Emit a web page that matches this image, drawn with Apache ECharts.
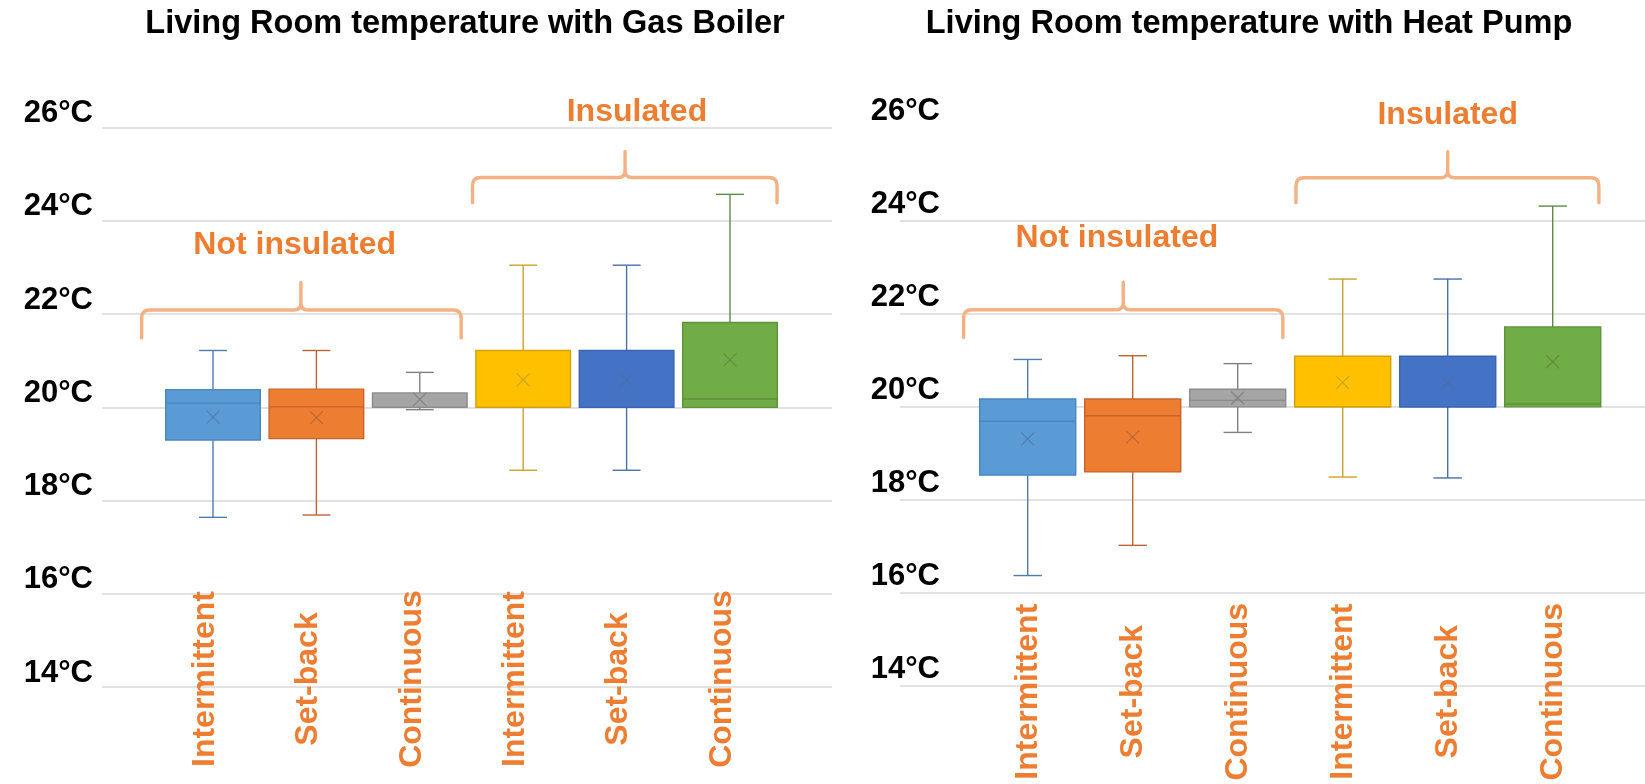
<!DOCTYPE html>
<html>
<head>
<meta charset="utf-8">
<title>Living Room temperature</title>
<script src="https://cdn.jsdelivr.net/npm/echarts@6/dist/echarts.min.js"></script>
<style>
  html, body { margin: 0; padding: 0; background: #ffffff; }
  #chart { width: 1645px; height: 784px; }
</style>
</head>
<body>
<div id="chart"></div>
<script>
// ---- data -------------------------------------------------------------
const categories = ['Intermittent', 'Set-back', 'Continuous', 'Intermittent', 'Set-back', 'Continuous'];
const groupNames = ['Not insulated', 'Insulated'];
// first and last category index of each group
const groupSpans = [[0, 2], [3, 5]];
const yTicks = [14, 16, 18, 20, 22, 24, 26];

// [min, Q1, median, Q3, max] in °C
const gasBoilerBox = [
  [17.64, 19.30, 20.09, 20.38, 21.22],
  [17.69, 19.33, 20.01, 20.39, 21.22],
  [19.95, 20.00, 20.00, 20.31, 20.75],
  [18.65, 20.00, 20.00, 21.22, 23.05],
  [18.65, 20.00, 20.00, 21.22, 23.05],
  [20.00, 20.00, 20.18, 21.82, 24.57]
];
const gasBoilerMean = [19.79, 19.78, 20.17, 20.59, 20.59, 21.02];

const heatPumpBox = [
  [16.37, 18.53, 19.69, 20.17, 21.02],
  [17.02, 18.60, 19.81, 20.17, 21.10],
  [19.45, 20.00, 20.14, 20.38, 20.93],
  [18.49, 20.00, 20.00, 21.09, 22.75],
  [18.47, 20.00, 20.00, 21.09, 22.75],
  [20.00, 20.00, 20.06, 21.72, 24.32]
];
const heatPumpMean = [19.31, 19.35, 20.19, 20.52, 20.52, 20.97];

// ---- styling ------------------------------------------------------------
const FONT = '"Liberation Sans", Arial, Helvetica, sans-serif';
const ORANGE_TEXT = '#ED7D31';
const BRACE_COLOR = '#F4B183';
const boxFill   = ['#5B9BD5', '#ED7D31', '#A5A5A5', '#FFC000', '#4472C4', '#70AD47'];
const boxStroke = ['#4A86C2', '#C9652A', '#8C8C8C', '#D2A20C', '#3A64B0', '#5E9339'];
const lineColor = ['#4E7DAD', '#BA6433', '#808080', '#C9A227', '#4A6FA8', '#5E8B42'];

// brace geometry (category units horizontally, °C vertically)
const braceLevels = [
  { end: 21.49, mid: 22.09, top: 22.68 },
  { end: 24.39, mid: 24.93, top: 25.49 }
];
const gasBraceLayout = [
  { from: -0.69, to: 2.40, tip: 0.85, labelX: 0.79, labelY: 23.48 },
  { from: 2.51, to: 5.455, tip: 3.985, labelX: 4.10, labelY: 26.33 }
];
const heatBraceLayout = [
  { from: -0.61, to: 2.43, tip: 0.91, labelX: 0.85, labelY: 23.62 },
  { from: 2.555, to: 5.44, tip: 4.0, labelX: 4.0, labelY: 26.27 }
];

function boxRows(box, mean) {
  return box.map((b, i) => [i].concat(b, [mean[i]]));
}

function renderBox(params, api) {
  const i = api.value(0);
  const lo = api.value(1), q1 = api.value(2), med = api.value(3),
        q3 = api.value(4), hi = api.value(5), mean = api.value(6);
  const band = api.size([1, 0])[0];
  const bw = band * 0.915;
  const cw = band * 0.27;
  const xs = 6.5;
  const cx = api.coord([i, lo])[0];
  const yLo = api.coord([i, lo])[1];
  const yQ1 = api.coord([i, q1])[1];
  const yMed = api.coord([i, med])[1];
  const yQ3 = api.coord([i, q3])[1];
  const yHi = api.coord([i, hi])[1];
  const yMean = api.coord([i, mean])[1];
  const c = params.dataIndex;
  const wStyle = { stroke: lineColor[c], lineWidth: 1.4 };
  const children = [];
  if (hi > q3) {
    children.push({ type: 'line', shape: { x1: cx, y1: yQ3, x2: cx, y2: yHi }, style: wStyle });
    children.push({ type: 'line', shape: { x1: cx - cw / 2, y1: yHi, x2: cx + cw / 2, y2: yHi }, style: wStyle });
  }
  if (lo < q1) {
    children.push({ type: 'line', shape: { x1: cx, y1: yQ1, x2: cx, y2: yLo }, style: wStyle });
    children.push({ type: 'line', shape: { x1: cx - cw / 2, y1: yLo, x2: cx + cw / 2, y2: yLo }, style: wStyle });
  }
  children.push({
    type: 'rect',
    shape: { x: cx - bw / 2, y: yQ3, width: bw, height: yQ1 - yQ3 },
    style: { fill: boxFill[c], stroke: boxStroke[c], lineWidth: 1.4 }
  });
  children.push({
    type: 'line',
    shape: { x1: cx - bw / 2, y1: yMed, x2: cx + bw / 2, y2: yMed },
    style: { stroke: boxStroke[c], lineWidth: 1.4 }
  });
  const mStyle = { stroke: lineColor[c], lineWidth: 1.2, opacity: 0.9 };
  children.push({ type: 'line', shape: { x1: cx - xs, y1: yMean - xs, x2: cx + xs, y2: yMean + xs }, style: mStyle });
  children.push({ type: 'line', shape: { x1: cx - xs, y1: yMean + xs, x2: cx + xs, y2: yMean - xs }, style: mStyle });
  return { type: 'group', children: children };
}

function makeBraceRenderer(layout) {
  return function (params, api) {
    const k = params.dataIndex;
    const L = layout[k];
    const lv = braceLevels[k];
    const p0 = api.coord([0, lv.mid]);
    const p1 = api.coord([1, lv.mid]);
    const step = p1[0] - p0[0];
    const X = f => p0[0] + f * step;
    const Y = v => api.coord([0, v])[1];
    const xa = X(L.from), xb = X(L.to), xm = X(L.tip);
    const yE = Y(lv.end), yH = Y(lv.mid), yT = Y(lv.top);
    const r = 8, r2 = 7;
    const d = [
      'M', xa, yE, 'L', xa, yH + r, 'Q', xa, yH, xa + r, yH,
      'L', xm - r2, yH, 'Q', xm, yH, xm, yH - r2, 'L', xm, yT,
      'M', xm, yH - r2, 'Q', xm, yH, xm + r2, yH,
      'L', xb - r, yH, 'Q', xb, yH, xb, yH + r, 'L', xb, yE
    ].join(' ');
    return {
      type: 'group',
      children: [
        {
          type: 'path',
          shape: { pathData: d },
          style: { fill: 'none', stroke: BRACE_COLOR, lineWidth: 3.4, lineCap: 'round', lineJoin: 'round' }
        },
        {
          type: 'text',
          style: {
            text: groupNames[k],
            x: X(L.labelX),
            y: Y(L.labelY),
            align: 'center',
            verticalAlign: 'middle',
            font: 'bold 32px ' + FONT,
            fill: ORANGE_TEXT
          }
        }
      ]
    };
  };
}

const yMin = yTicks[0], yMax = yTicks[yTicks.length - 1], yStep = yTicks[1] - yTicks[0];

function valueAxis(gridIndex, opts) {
  return Object.assign({
    type: 'value', gridIndex: gridIndex, min: yMin, max: yMax, interval: yStep,
    axisLine: { show: false }, axisTick: { show: false }
  }, opts);
}

const gridBase = { top: 127.7, bottom: 97, outerBoundsMode: 'none', containLabel: false };
const titleFont = 'bold 32.5px ' + FONT;

const option = {
  backgroundColor: '#ffffff',
  animation: false,
  graphic: [
    {
      type: 'text', x: 465, y: 24,
      style: { text: 'Living Room temperature with Gas Boiler', font: titleFont, fill: '#000', align: 'center', verticalAlign: 'middle' }
    },
    {
      type: 'text', x: 1249, y: 24,
      style: { text: 'Living Room temperature with Heat Pump', font: titleFont, fill: '#000', align: 'center', verticalAlign: 'middle' }
    }
  ],
  grid: [
    Object.assign({}, gridBase, { left: 102, right: 813 }),
    Object.assign({}, gridBase, { left: 161.3, right: 863.3 }),
    Object.assign({}, gridBase, { left: 900, right: 0, top: 128, bottom: 98.3 }),
    Object.assign({}, gridBase, { left: 975.2, right: 39.8, top: 128, bottom: 98.3 })
  ],
  xAxis: [
    { type: 'category', gridIndex: 0, data: categories, show: false },
    {
      type: 'category', gridIndex: 1, data: categories,
      axisLine: { show: false }, axisTick: { show: false }, splitLine: { show: false },
      axisLabel: {
        interval: 0, rotate: 90, align: 'center', verticalAlign: 'bottom', lineHeight: 16, margin: -8,
        color: ORANGE_TEXT, fontFamily: FONT, fontWeight: 'bold', fontSize: 32
      }
    },
    { type: 'category', gridIndex: 2, data: categories, show: false },
    {
      type: 'category', gridIndex: 3, data: categories,
      axisLine: { show: false }, axisTick: { show: false }, splitLine: { show: false },
      axisLabel: {
        interval: 0, rotate: 90, align: 'center', verticalAlign: 'middle', margin: 6,
        color: ORANGE_TEXT, fontFamily: FONT, fontWeight: 'bold', fontSize: 32
      }
    }
  ],
  yAxis: [
    valueAxis(0, {
      splitLine: { show: true, lineStyle: { color: '#D9D9D9', width: 1.5 } },
      axisLabel: {
        formatter: v => v + '°C', align: 'right', verticalAlign: 'bottom', lineHeight: 28, margin: 9,
        color: '#000', fontFamily: FONT, fontWeight: 'bold', fontSize: 31
      }
    }),
    valueAxis(1, { show: false, splitLine: { show: false } }),
    valueAxis(2, {
      splitLine: { show: true, showMaxLine: false, lineStyle: { color: '#D9D9D9', width: 1.5 } },
      axisLabel: {
        formatter: v => v + '°C', align: 'right', verticalAlign: 'bottom', lineHeight: 33, margin: -40,
        color: '#000', fontFamily: FONT, fontWeight: 'bold', fontSize: 31
      }
    }),
    valueAxis(3, { show: false, splitLine: { show: false } })
  ],
  series: [
    {
      name: 'Gas Boiler', type: 'custom', xAxisIndex: 1, yAxisIndex: 1, clip: false,
      data: boxRows(gasBoilerBox, gasBoilerMean),
      encode: { x: 0, y: [1, 2, 3, 4, 5, 6] },
      renderItem: renderBox
    },
    {
      name: 'Heat Pump', type: 'custom', xAxisIndex: 3, yAxisIndex: 3, clip: false,
      data: boxRows(heatPumpBox, heatPumpMean),
      encode: { x: 0, y: [1, 2, 3, 4, 5, 6] },
      renderItem: renderBox
    },
    {
      name: 'Gas Boiler groups', type: 'custom', xAxisIndex: 1, yAxisIndex: 1, clip: false, silent: true,
      data: groupSpans,
      encode: { x: [0, 1] },
      renderItem: makeBraceRenderer(gasBraceLayout)
    },
    {
      name: 'Heat Pump groups', type: 'custom', xAxisIndex: 3, yAxisIndex: 3, clip: false, silent: true,
      data: groupSpans,
      encode: { x: [0, 1] },
      renderItem: makeBraceRenderer(heatBraceLayout)
    }
  ]
};

const chart = echarts.init(document.getElementById('chart'), null, { renderer: 'canvas' });
chart.setOption(option);
</script>
</body>
</html>
